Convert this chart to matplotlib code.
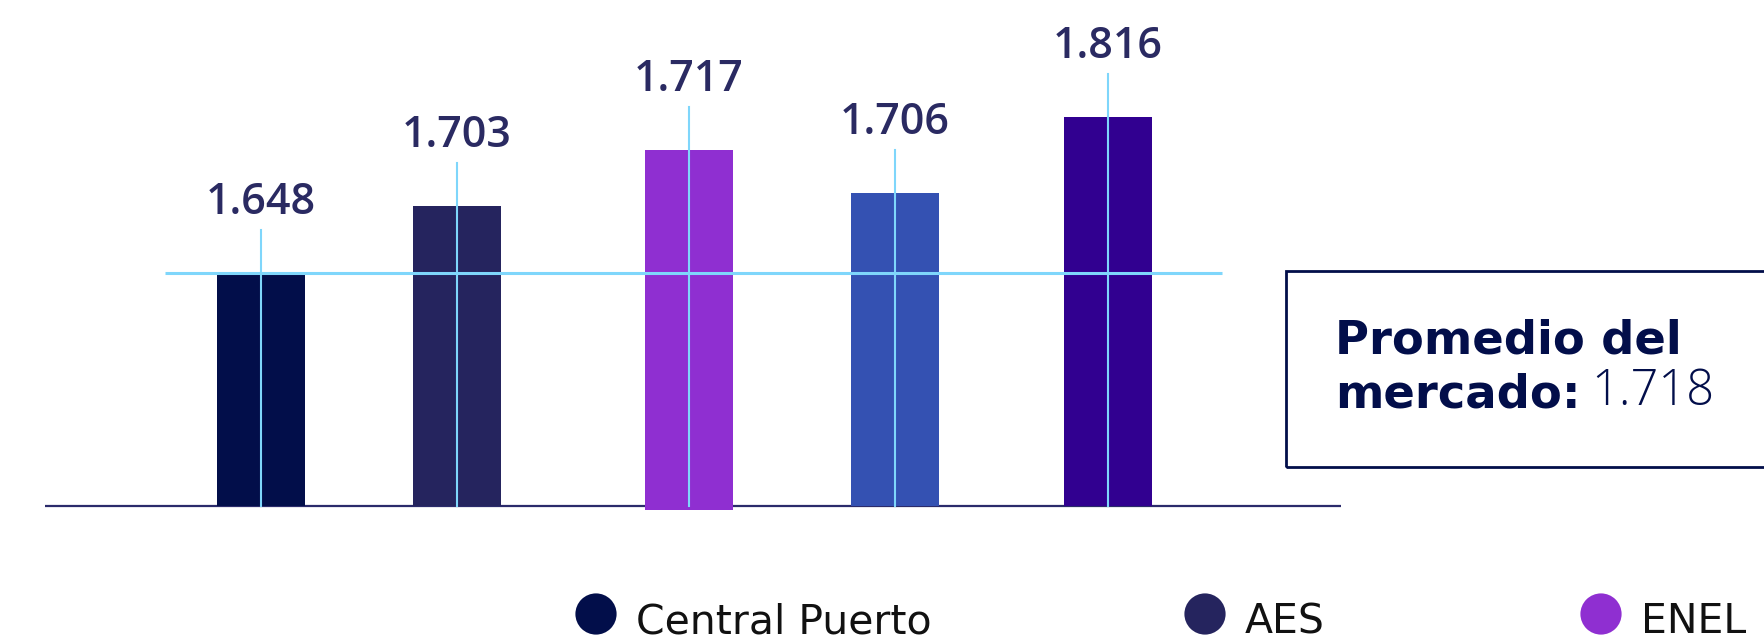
import matplotlib

matplotlib.use("Agg")
import matplotlib.pyplot as plt
from matplotlib.patches import Rectangle

# values shown above the bars and bar heights as drawn (bars are not to scale)
companies = ["Central Puerto", "AES", "ENEL", "Pampa", "Otros"]
value_labels = ["1.648", "1.703", "1.717", "1.706", "1.816"]
bar_heights = [233, 300, 356, 313, 389]
market_avg_label = "1.718"
market_avg_height = 233
legend_names = ["Central Puerto", "AES", "ENEL"]

BAR_COLORS = ["#020e4a", "#25245e", "#8f2fd1", "#3451b2", "#310090"]
LINE_BLUE = "#7fd6fb"
NAVY = "#020e4a"
LABEL_COLOR = "#2a2a62"

# layout (pixel-ish units, baseline at y=0)
bar_x = [260.5, 457, 688.5, 894.5, 1108]
bar_bottoms = [0, 0, -4, 0, 0]
bar_width = 88
stem_extra = 43
legend_x = [596, 1205, 1601]

NUM_FONT = ["Open Sans", "DejaVu Sans"]
TXT_FONT = ["DejaVu Sans"]

fig = plt.figure(figsize=(17.64, 6.4), dpi=100)
fig.patch.set_facecolor("white")
ax = fig.add_axes([0, 0, 1, 1])
ax.set_xlim(0, 1764)
ax.set_ylim(-134, 506)
ax.axis("off")

# baseline
ax.plot([45, 1341], [0, 0], color="#2b2b6b", linewidth=1.6, solid_capstyle="butt", zorder=1)

ax.bar(bar_x, [h - b for h, b in zip(bar_heights, bar_bottoms)], bottom=bar_bottoms,
       width=bar_width, color=BAR_COLORS, zorder=2)

# market average line
ax.plot([165, 1222], [market_avg_height, market_avg_height], color=LINE_BLUE,
        linewidth=2.2, solid_capstyle="butt", zorder=3)

for x, h, lab in zip(bar_x, bar_heights, value_labels):
    ax.plot([x, x], [0, h + stem_extra], color=LINE_BLUE, linewidth=1.5, zorder=3)
    ax.text(x, h + stem_extra + 16, lab, ha="center", va="baseline",
            fontsize=31, fontweight="semibold", color=LABEL_COLOR, family=NUM_FONT)

# average box
ax.add_patch(Rectangle((1286, 506 - 467), 600, 196, fill=False,
                       edgecolor=NAVY, linewidth=2, zorder=4))
ax.text(1335, 506 - 353, "Promedio del", ha="left", va="baseline",
        fontsize=33.5, fontweight="bold", color=NAVY, family=TXT_FONT)
t = ax.text(1335, 506 - 407, "mercado:", ha="left", va="baseline",
            fontsize=33.5, fontweight="bold", color=NAVY, family=TXT_FONT)
ax.annotate(market_avg_label, xy=(1, 0), xycoords=t, xytext=(8, 0),
            textcoords="offset points", ha="left", va="bottom",
            fontsize=35, fontweight="light", color=NAVY, family=NUM_FONT)

# legend
for x, name, c in zip(legend_x, legend_names, BAR_COLORS):
    ax.scatter([x], [506 - 614], s=880, color=c, edgecolors="none", zorder=5)
    ax.text(x + 40, 506 - 633, name, ha="left", va="baseline",
            fontsize=29.5, fontweight="normal", color="#111111", family=TXT_FONT)

fig.savefig("out.png", dpi=100, facecolor="white")
